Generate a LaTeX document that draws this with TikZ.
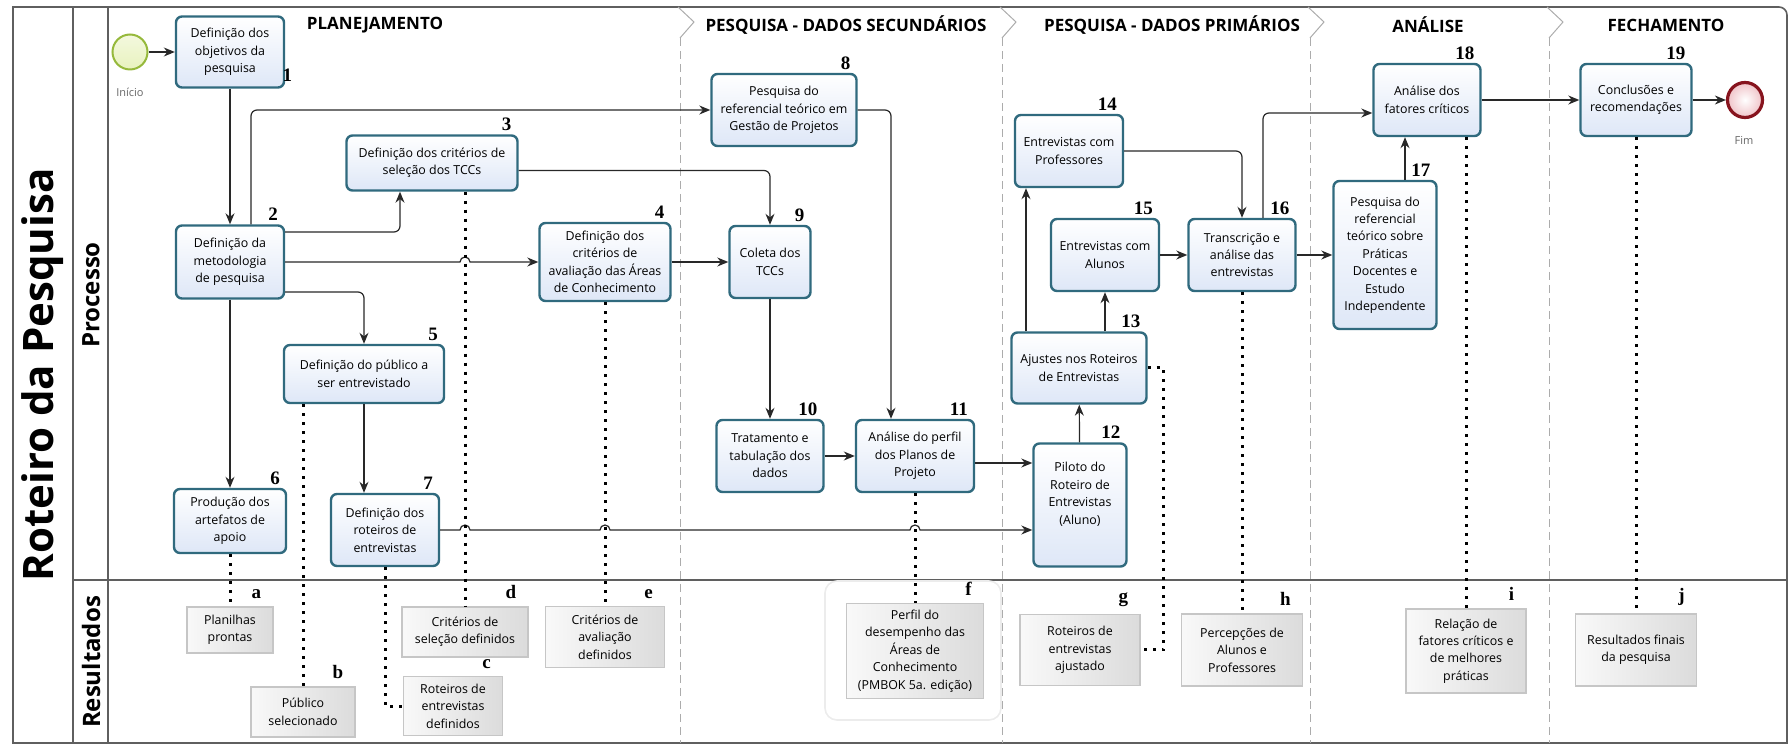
\documentclass[tikz,border=0pt]{standalone}
\usepackage{fontspec}
\setmainfont{Open Sans}
\newfontfamily\numfont{Liberation Serif}
\usetikzlibrary{arrows.meta,calc}

\definecolor{taskline}{RGB}{48,106,126}
\definecolor{taskfill}{RGB}{222,231,247}
\definecolor{framecol}{RGB}{95,95,95}
\definecolor{flowcol}{RGB}{40,40,40}
\definecolor{startline}{RGB}{150,185,60}
\definecolor{startfill}{RGB}{232,242,190}
\definecolor{endline}{RGB}{135,20,30}
\definecolor{endfill}{RGB}{240,195,200}

\tikzset{
  task/.style={draw=taskline, line width=1.2pt, rounded corners=3pt, top color=white,
    bottom color=taskfill, align=center, inner sep=1pt, font=\fontsize{6.2}{8.7}\selectfont},
  result/.style={draw=gray!45, line width=0.6pt, left color=gray!5, right color=gray!28,
    align=center, inner sep=1pt, font=\fontsize{6.2}{8.7}\selectfont},
  wh/.style 2 args={minimum width=#1*0.5pt, minimum height=#2*0.5pt},
  num/.style={font=\numfont\bfseries\fontsize{9.5}{10}\selectfont, inner sep=0pt,
    anchor=south east, xshift=-3.5pt, yshift=1.5pt},
  letr/.style={num, xshift=-2.5pt, yshift=2pt},
  flow/.style={draw=flowcol, line width=0.6pt, -{Stealth[length=5.5pt,width=4.5pt]}, rounded corners=3pt},
  assoc/.style={draw=black, line width=1.5pt, dash pattern=on 1.5pt off 3pt},
  frame/.style={draw=framecol, line width=0.8pt},
  phase/.style={draw=gray!65, line width=0.5pt, dash pattern=on 4pt off 2.5pt},
  ttl/.style={font=\fontsize{8.5}{10}\selectfont\bfseries},
  lane/.style={font=\fontsize{12}{14}\selectfont\bfseries},
  evlbl/.style={font=\fontsize{5.5}{6}\selectfont, text=gray!80!black},
}

\begin{document}
\begin{tikzpicture}[x=0.5pt,y=-0.5pt]
\useasboundingbox (0,0) rectangle (1790,748);

% pool and lanes
\draw[frame] (13,743) -- (13,7) -- (1779,7) arc[start angle=90,end angle=0,radius=4pt] -- (1787,743) -- cycle;
\draw[frame] (73,7) -- (73,743);
\draw[frame] (108,7) -- (108,743);
\draw[frame] (73,580) -- (1787,580);
\node[rotate=90, font=\fontsize{21}{24}\selectfont\bfseries] (titulo) at (43,375) {Roteiro da Pesquisa};
\node[rotate=90, lane] (lproc) at (91,295) {Processo};
\node[rotate=90, lane] (lres) at (91,662) {Resultados};

% phase separators
\foreach \px in {680,1002,1310,1549}
{\draw[gray!65, line width=0.5pt] (\px-2,7) -- (\px+14,22) -- (\px,38);
 \draw[phase] (\px,38) -- (\px,743);}

\node[ttl] (fase1) at (375,25) {PLANEJAMENTO};
\node[ttl] (fase2) at (846,25) {PESQUISA - DADOS SECUNDÁRIOS};
\node[ttl] (fase3) at (1172,25) {PESQUISA - DADOS PRIMÁRIOS};
\node[ttl] (fase4) at (1428,25) {ANÁLISE};
\node[ttl] (fase5) at (1666,25) {FECHAMENTO};

% events
\node[circle, draw=startline, line width=1pt, inner sep=0pt, minimum size=17.5pt,
  top color=startfill!50!white, bottom color=startfill] (ini) at (130,52) {};
\node[evlbl] (lini) at (130,92) {Início};
\node[circle, draw=endline, line width=1.6pt, inner sep=0pt, minimum size=17.5pt,
  inner color=white, outer color=endfill] (fim) at (1745,100) {};
\node[evlbl] (lfim) at (1744,140) {Fim};

% tasks
\node[task, wh={108}{71}, label={[num, anchor=south west, xshift=2pt, yshift=2pt]south east:1}] (b1) at (230,52) {Definição dos\\objetivos da\\pesquisa};
\node[task, wh={108}{73}, label={[num]north east:2}] (b2) at (230,262) {Definição da\\metodologia\\de pesquisa};
\node[task, wh={171}{55}, label={[num]north east:3}] (b3) at (432,163) {Definição dos critérios de\\seleção dos TCCs};
\node[task, wh={131}{78}, label={[num]north east:4}] (b4) at (605,262) {Definição dos\\critérios de\\avaliação das Áreas\\de Conhecimento};
\node[task, wh={160}{58}, label={[num]north east:5}] (b5) at (364,374) {Definição do público a\\ser entrevistado};
\node[task, wh={112}{64}, label={[num]north east:6}] (b6) at (230,521) {Produção dos\\artefatos de\\apoio};
\node[task, wh={108}{72}, label={[num]north east:7}] (b7) at (385,530) {Definição dos\\roteiros de\\entrevistas};
\node[task, wh={145}{72}, label={[num]north east:8}] (b8) at (784,110) {Pesquisa do\\referencial teórico em\\Gestão de Projetos};
\node[task, wh={81}{72}, label={[num]north east:9}] (b9) at (770,262) {Coleta dos\\TCCs};
\node[task, wh={107}{72}, label={[num]north east:10}] (b10) at (770,456) {Tratamento e\\tabulação dos\\dados};
\node[task, wh={118}{72}, label={[num]north east:11}] (b11) at (915,456) {Análise do perfil\\dos Planos de\\Projeto};
\node[task, wh={93}{123}, label={[num]north east:12}] (b12) at (1080,505) {Piloto do\\Roteiro de\\Entrevistas\\(Aluno)\\[3pt]};
\node[task, wh={135}{71}, label={[num]north east:13}] (b13) at (1079,368) {Ajustes nos Roteiros\\de Entrevistas};
\node[task, wh={108}{72}, label={[num]north east:14}] (b14) at (1069,151) {Entrevistas com\\Professores};
\node[task, wh={108}{72}, label={[num]north east:15}] (b15) at (1105,255) {Entrevistas com\\Alunos};
\node[task, wh={107}{72}, label={[num]north east:16}] (b16) at (1242,255) {Transcrição e\\análise das\\entrevistas};
\node[task, wh={103}{148}, label={[num]north east:17}] (b17) at (1385,255) {Pesquisa do\\referencial\\teórico sobre\\Práticas\\Docentes e\\Estudo\\Independente};
\node[task, wh={107}{72}, label={[num]north east:18}] (b18) at (1427,100) {Análise dos\\fatores críticos};
\node[task, wh={111}{72}, label={[num]north east:19}] (b19) at (1636,100) {Conclusões e\\recomendações};

% results
\draw[gray!15, line width=0.8pt, rounded corners=6pt] (825,581) rectangle (1001,720);
\node[result, wh={86}{46}, label={[letr]north east:a}] (ra) at (230,630) {Planilhas\\prontas};
\node[result, wh={104}{50}, label={[letr]north east:b}] (rb) at (303,712) {Público\\selecionado};
\node[result, wh={99}{59}, label={[letr]north east:c}] (rc) at (453,706) {Roteiros de\\entrevistas\\definidos};
\node[result, wh={126}{50}, label={[letr]north east:d}] (rd) at (465,632) {Critérios de\\seleção definidos};
\node[result, wh={119}{61}, label={[letr]north east:e}] (re) at (605,637) {Critérios de\\avaliação\\definidos};
\node[result, wh={137}{95}, label={[letr]north east:f}] (rf) at (915,651) {Perfil do\\desempenho das\\Áreas de\\Conhecimento\\(PMBOK 5a. edição)};
\node[result, wh={120}{71}, label={[letr]north east:g}] (rg) at (1080,650) {Roteiros de\\entrevistas\\ajustado};
\node[result, wh={121}{72}, label={[letr]north east:h}] (rh) at (1242,650) {Percepções de\\Alunos e\\Professores};
\node[result, wh={120}{84}, label={[letr]north east:i}] (ri) at (1466,651) {Relação de\\fatores críticos e\\de melhores\\práticas};
\node[result, wh={121}{72}, label={[letr]north east:j}] (rj) at (1636,650) {Resultados finais\\da pesquisa};

% offset points for the connectors
\coordinate (c11) at ($(b11.east)+(0,7)$);
\coordinate (c14) at ($(b14.south)+(-43,0)$);
\coordinate (c16) at ($(b16.north)+(21,0)$);
\coordinate (c18) at ($(b18.west)+(0,13)$);
\coordinate (c17) at ($(b17.north)+(20,0)$);
\coordinate (cg) at ($(rg.east)+(23,0)$);

% sequence flows
\draw[flow] (ini) -- (b1);
\draw[flow] (b1) -- (b2);
\draw[flow] ([yshift=15pt]b2.east) -| ([xshift=-16pt]b3.south);
\draw[flow] ([xshift=10.5pt]b2.north) |- (b8.west);
\draw[flow, sharp corners] (b2.east) -- ($(b2.east -| rd.north)+(-5,0)$) arc[start angle=180,end angle=0,radius=2.5pt] -- (b4.west);
\draw[flow] ([yshift=-15pt]b2.east) -| (b5.north);
\draw[flow] (b2) -- (b6);
\draw[flow] (b5.south) -- (b5.south |- b7.north);
\draw[flow] ([yshift=-3.75pt]b3.east) -| (b9.north);
\draw[flow] (b4) -- (b9);
\draw[flow] (b8.east) -| ([xshift=-12pt]b11.north);
\draw[flow] (b9) -- (b10);
\draw[flow] (b10) -- (b11);
\draw[flow] (c11) -- (c11 -| b12.west);
\draw[flow, sharp corners] (b7.east) -- ($(b7.east -| rd.north)+(-5,0)$) arc[start angle=180,end angle=0,radius=2.5pt]
  -- ($(b7.east -| re.north)+(-5,0)$) arc[start angle=180,end angle=0,radius=2.5pt]
  -- ($(b7.east -| rf.north)+(-5,0)$) arc[start angle=180,end angle=0,radius=2.5pt]
  -- (b7.east -| b12.west);
\draw[flow] (b12) -- (b13);
\draw[flow] (c14 |- b13.north) -- (c14);
\draw[flow] (b15.south |- b13.north) -- (b15.south);
\draw[flow] (b14.east) -| (b16.north);
\draw[flow] (b15) -- (b16);
\draw[flow] (b16) -- (b17);
\draw[flow] (c16) |- (c18);
\draw[flow] (c17) -- (c17 |- b18.south);
\draw[flow] (b18) -- (b19);
\draw[flow] (b19) -- (fim);

% associations
\draw[assoc] (b6.south) -- (ra.north);
\draw[assoc] (b5.south -| rb.north) -- (rb.north);
\draw[assoc] (b3.south -| rd.north) -- (rd.north);
\draw[assoc] (b7.south) -- (b7.south |- rc.west) -- (rc.west);
\draw[assoc] (b4.south) -- (re.north);
\draw[assoc] (b11.south) -- (rf.north);
\draw[assoc] (b13.east) -| (cg) -- (rg.east);
\draw[assoc] (b16.south) -- (rh.north);
\draw[assoc] (b18.south -| ri.north) -- (ri.north);
\draw[assoc] (b19.south) -- (rj.north);
\end{tikzpicture}
\end{document}
